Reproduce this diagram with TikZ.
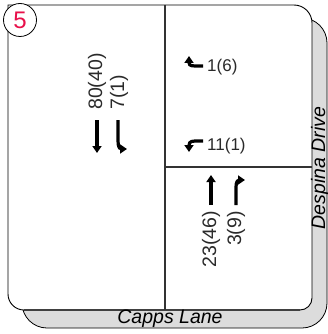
\documentclass[tikz,border=0pt]{standalone}
\usepackage{fontspec}
\setmainfont{Liberation Sans}
\usetikzlibrary{arrows.meta}
\definecolor{bandgray}{HTML}{DCDCDC}
\definecolor{numgray}{HTML}{2A2A2A}
\definecolor{idred}{HTML}{E8104A}
\begin{document}
\begin{tikzpicture}[x=1pt,y=-1pt,
  count/.style={font=\fontsize{17}{17}\selectfont, text=numgray, inner sep=0pt},
  vcount/.style={font=\fontsize{19.5}{19.5}\selectfont, text=numgray, inner sep=0pt, rotate=90},
  street/.style={font=\fontsize{19.5}{19.5}\selectfont\itshape, text=black, inner sep=0pt},
  movearrow/.style={line width=3.2pt, -{Triangle[width=9pt,length=7pt]}},
  divider/.style={line width=2.2pt, black!80}
]
\useasboundingbox (0,0) rectangle (328,334);
% street band behind the panel
\draw[fill=bandgray, line width=0.8pt, rounded corners=25] (22,18) rectangle (327,328);
% white intersection panel
\draw[fill=white, line width=0.9pt]
  (8,5) -- (294,5) arc[start angle=-90, end angle=0, radius=18]
  -- (312,298) arc[start angle=0, end angle=90, radius=12]
  -- (24,310) arc[start angle=90, end angle=180, radius=16]
  -- cycle;
\draw[line width=1.6pt, black!75] (24,310) -- (300,310);
% lane dividers
\draw[divider] (165,5) -- (165,310);
\draw[divider] (165,167) -- (312,167);
% intersection number
\node[draw, circle, fill=white, line width=0.8pt, minimum size=33pt, inner sep=0pt,
      text=idred, font=\fontsize{24}{24}\selectfont] (num) at (20,20) {5};
% southbound
\node[vcount, anchor=west] (sbT) at (97,110) {80(40)};
\node[vcount, anchor=west] (sbL) at (119,110) {7(1)};
\draw[movearrow] (97,120) -- (97,153);
\draw[movearrow] (118,120) -- (118,141) .. controls (118,147) and (120,149) .. (127,149);
% westbound
\node[count, anchor=west] (wbR) at (207,67) {1(6)};
\node[count, anchor=west] (wbL) at (207,146) {11(1)};
\draw[movearrow] (203,66) -- (195,66) .. controls (189,66) and (189,64) .. (189,56);
\draw[movearrow] (203,141) -- (195,141) .. controls (189,141) and (189,144) .. (189,152);
% northbound
\node[vcount, anchor=east] (nbT) at (211,211) {23(46)};
\node[vcount, anchor=east] (nbR) at (236,211) {3(9)};
\draw[movearrow] (211,205) -- (211,175);
\draw[movearrow] (236,205) -- (236,187) .. controls (236,182) and (238,180) .. (245,180);
% street names
\node[street] (capps) at (170,319) {Capps Lane};
\node[street, rotate=90] (despina) at (320,168) {Despina Drive};
\end{tikzpicture}
\end{document}
